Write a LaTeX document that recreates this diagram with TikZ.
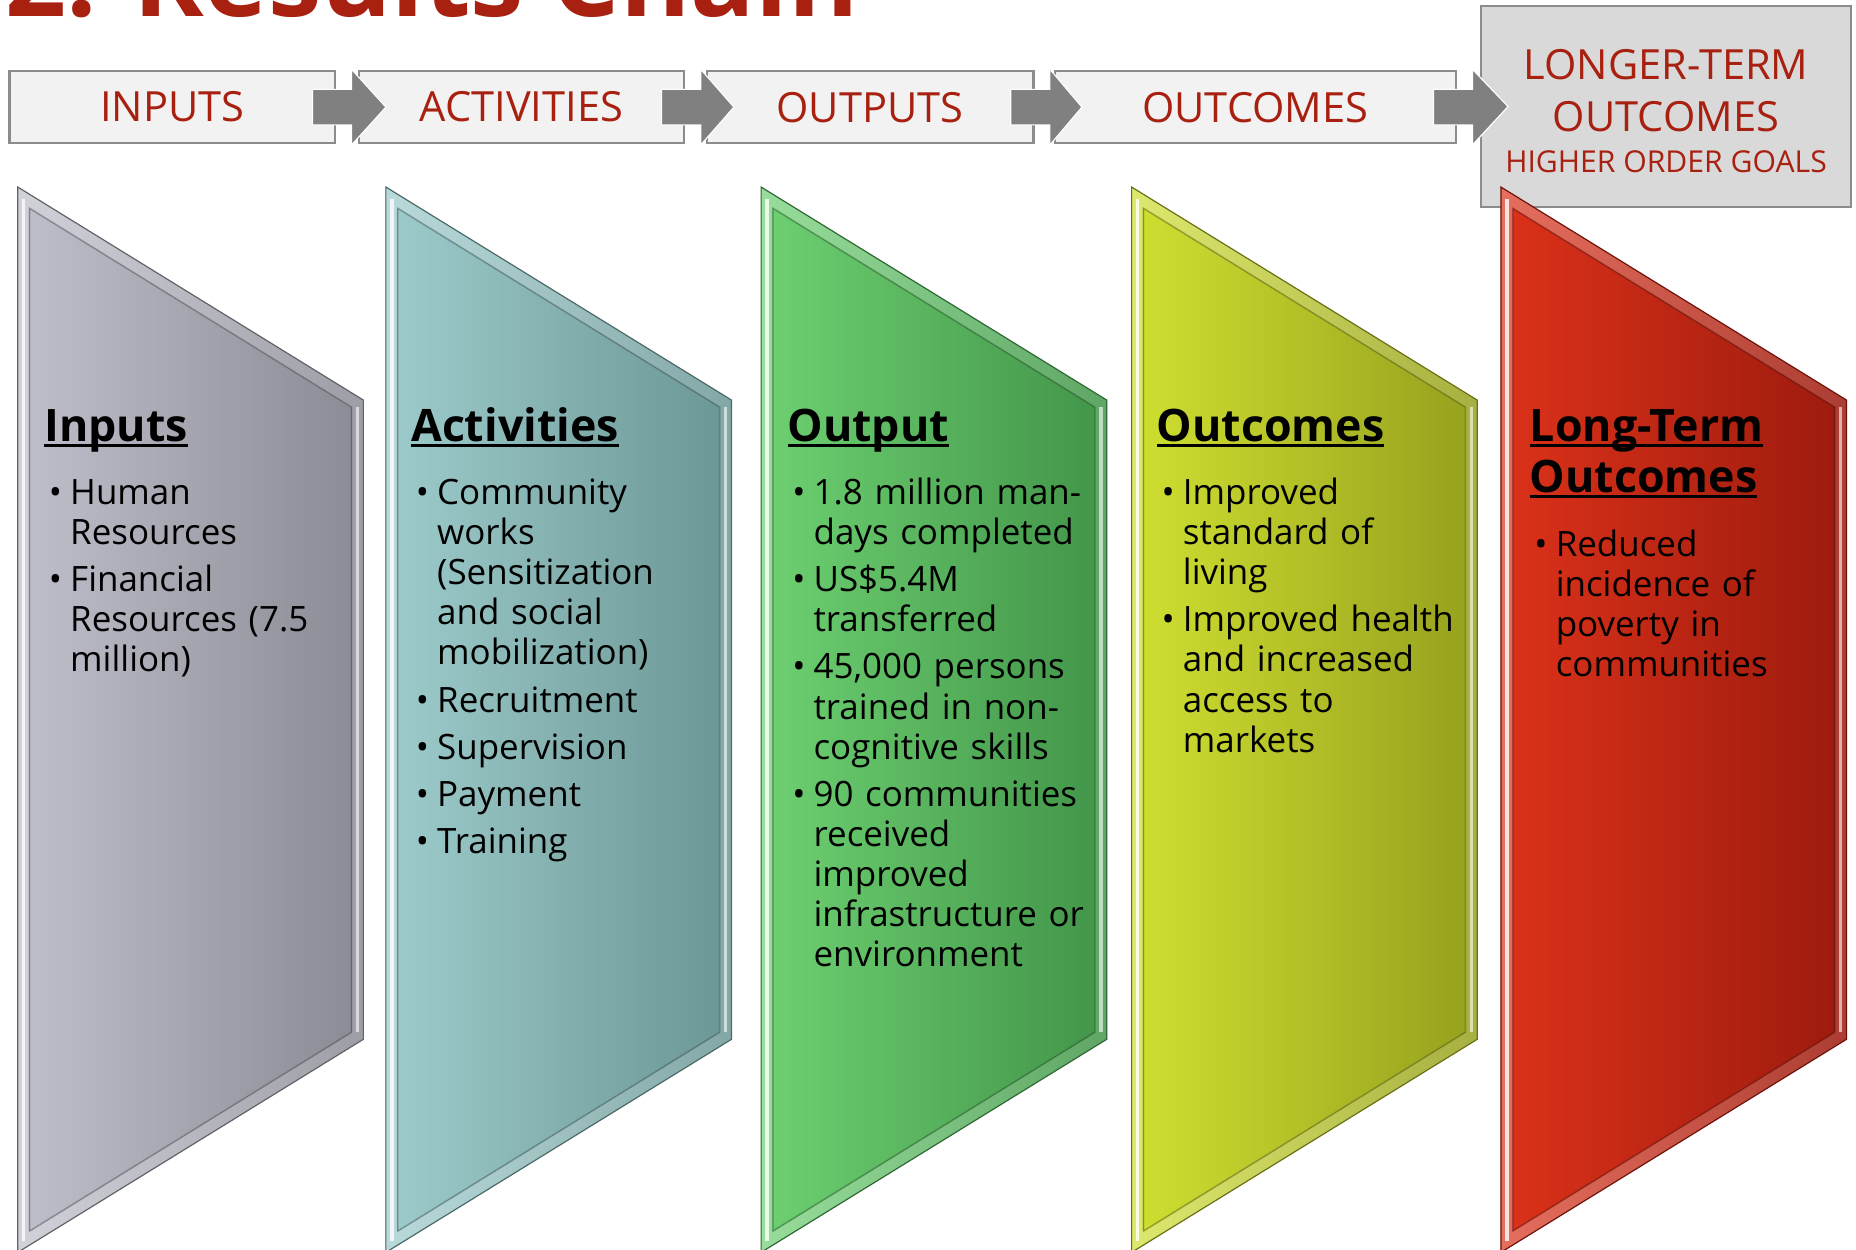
\documentclass[tikz,border=0pt]{standalone}
\usepackage{fontspec}
\setmainfont{Open Sans}
\usetikzlibrary{calc,positioning}

\definecolor{titlered}{HTML}{A8200F}
\definecolor{boxgray}{HTML}{8C8C8C}
\definecolor{boxfill}{HTML}{F2F2F2}
\definecolor{ltfill}{HTML}{D9D9D9}
\definecolor{arrowgray}{HTML}{808080}
\definecolor{inpA}{HTML}{BEBECA}
\definecolor{inpB}{HTML}{8C8C96}
\definecolor{actA}{HTML}{9CCACA}
\definecolor{actB}{HTML}{6C9896}
\definecolor{outA}{HTML}{6CCF70}
\definecolor{outB}{HTML}{43964A}
\definecolor{ocmA}{HTML}{CEDE30}
\definecolor{ocmB}{HTML}{97A21E}
\definecolor{ltmA}{HTML}{DA3119}
\definecolor{ltmB}{HTML}{9E1B0E}

\newcommand{\headul}[1]{\setbox0\hbox{#1}\rlap{\rule[-2.8pt]{\wd0}{1.4pt}}\box0}
% first bullet of a list, then the following ones
\newcommand{\bfirst}{\hangindent=0.36cm\hangafter=1\noindent\makebox[0.36cm][l]{\textbullet}}
\newcommand{\bul}{\par\bfirst}

\tikzset{
  topbox/.style={draw=boxgray, line width=0.04cm, fill=boxfill, minimum height=1.22cm,
    inner sep=0pt, text=titlered, align=center, font=\fontsize{20}{25}\selectfont},
  blockarrow/.style={fill=arrowgray, draw=white, line width=0.02cm},
  head/.style={anchor=base west, inner sep=0pt, align=left,
    font=\fontsize{21.5}{24.5}\selectfont\bfseries},
  body/.style={anchor=base west, inner sep=0pt, text width=6cm, align=left,
    font=\fontsize{16.8}{19.3}\selectfont\setlength{\parskip}{3.4pt}},
}

\begin{document}
\begin{tikzpicture}[x=0.02cm, y=-0.02cm]
  \clip (0,0) rectangle (1568,1056);
  \useasboundingbox (0,0) rectangle (1568,1056);

  % title, cut at the top
  \node[anchor=base west, inner sep=0pt, text=titlered] (title) at (4,14)
    {\resizebox{14.42cm}{!}{\bfseries 2. Results Chain}};

  % top row
  \node[topbox, minimum width=5.5cm] (inp) at (145.5,90.5) {INPUTS};
  \node[topbox, minimum width=5.5cm] (act) at (440.5,90.5) {ACTIVITIES};
  \node[topbox, minimum width=5.52cm] (outp) at (735,90.5) {OUTPUTS};
  \node[topbox, minimum width=6.78cm] (outc) at (1060.5,90.5) {OUTCOMES};
  \node[topbox, fill=ltfill, minimum width=6.26cm, minimum height=3.4cm] (ltout) at (1407.5,90)
    {\\[-6pt]LONGER-TERM\\OUTCOMES\\[-5pt]{\fontsize{14.5}{17}\selectfont HIGHER ORDER GOALS}};

  \foreach \a/\b in {inp/act,act/outp,outp/outc,outc/ltout}
    \draw[blockarrow] ($(\a.east)+(-20,-15)$) -- ($(\a.east)+(13,-15)$) -- ($(\a.east)+(13,-32)$)
      -- ($(\b.west)+(24,0)$) -- ($(\a.east)+(13,32)$) -- ($(\a.east)+(13,15)$)
      -- ($(\a.east)+(-20,15)$) -- cycle;

  % bevelled chevrons
  \foreach \L/\ca/\cb in {15/inpA/inpB,326/actA/actB,643/outA/outB,956/ocmA/ocmB,1268/ltmA/ltmB}{
    \fill[left color=\ca!70!white, right color=\cb!85!white]
      (\L,158) -- (\L+292,338) -- (\L+292,878) -- (\L,1058) -- cycle;
    \fill[left color=\ca, right color=\cb]
      (\L+10,176) -- (\L+282,344) -- (\L+282,872) -- (\L+10,1040) -- cycle;
    \draw[\cb!60!black, opacity=0.35, line width=0.03cm]
      (\L+10,176) -- (\L+282,344) -- (\L+282,872) -- (\L+10,1040) -- cycle;
    \draw[white, opacity=0.8, line width=0.06cm] (\L+5,168) -- (\L+5,1048);
    \draw[white, opacity=0.6, line width=0.06cm] (\L+287,344) -- (\L+287,872);
    \draw[\cb!70!black, line width=0.02cm]
      (\L,158) -- (\L+292,338) -- (\L+292,878) -- (\L,1058) -- cycle;
  }

  % texts
  \node[head] (inpH) at (37,373) {\headul{Inputs}};
  \node[body] (inpT) at (41,426) {\bfirst Human\newline Resources
    \bul Financial\newline Resources (7.5\newline million)\par};

  \node[head] (actH) at (347,373) {\headul{Activities}};
  \node[body] (actT) at (351,426) {\bfirst Community\newline works\newline (Sensitization\newline and social\newline mobilization)
    \bul Recruitment \bul Supervision \bul Payment \bul Training\par};

  \node[head] (outH) at (665,373) {\headul{Output}};
  \node[body] (outT) at (669,426) {\bfirst 1.8 million man-\newline days completed
    \bul US\$5.4M\newline transferred
    \bul 45,000 persons\newline trained in non-\newline cognitive skills
    \bul 90 communities\newline received\newline improved\newline infrastructure or\newline environment\par};

  \node[head] (ocmH) at (977,373) {\headul{Outcomes}};
  \node[body] (ocmT) at (981,426) {\bfirst Improved\newline standard of\newline living
    \bul Improved health\newline and increased\newline access to\newline markets\par};

  \node[head] (ltmH) at (1292,416) {\headul{Long-Term}\\\headul{Outcomes}};
  \node[body] (ltmT) at (1296,470) {\bfirst Reduced\newline incidence of\newline poverty in\newline communities\par};
\end{tikzpicture}
\end{document}
